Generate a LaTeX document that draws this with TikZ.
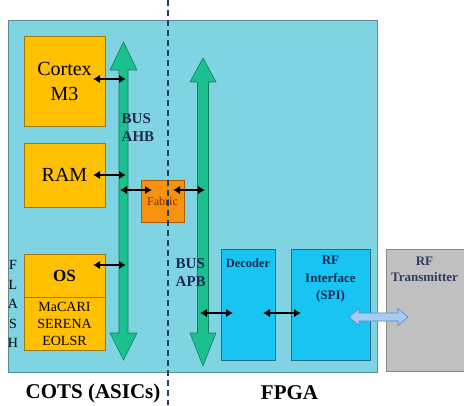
\documentclass[tikz,border=0pt]{standalone}
\usepackage{fontspec}
\setmainfont{Liberation Serif}
\usetikzlibrary{arrows.meta}
\definecolor{bgcyan}{HTML}{80D4E2}
\definecolor{bgedge}{HTML}{5A8C98}
\definecolor{yfill}{HTML}{FFC000}
\definecolor{yedge}{HTML}{9A7A10}
\definecolor{busfill}{HTML}{1CC08E}
\definecolor{busedge}{HTML}{0E8060}
\definecolor{fabfill}{HTML}{F7920E}
\definecolor{fabedge}{HTML}{A85E00}
\definecolor{fabtext}{HTML}{7A2A10}
\definecolor{bfill}{HTML}{18C4F2}
\definecolor{bedge}{HTML}{1E6E8C}
\definecolor{gfill}{HTML}{C0C0C0}
\definecolor{gedge}{HTML}{888888}
\definecolor{navy}{HTML}{1C2A52}
\definecolor{dashcol}{HTML}{1E3C6E}
\definecolor{lbfill}{HTML}{A6CCF4}
\definecolor{lbedge}{HTML}{5A88BE}
\begin{document}
\begin{tikzpicture}[x=1pt,y=-1pt,
  ybox/.style={draw=yedge, fill=yfill, line width=0.6pt, inner sep=0pt, align=center},
  bbox/.style={draw=bedge, fill=bfill, line width=0.6pt, inner sep=0pt},
  txt/.style={inner sep=0pt, align=center},
  bustxt/.style={inner sep=0pt, anchor=west, text=navy, font=\fontsize{15}{18}\selectfont\bfseries},
  blk/.style={{Latex[length=7pt,width=8.5pt]}-{Latex[length=7pt,width=8.5pt]}, line width=1.3pt, black},
  busarrow/.style={fill=busfill, draw=busedge, line width=0.6pt}
]
\clip (0,0) rectangle (464,405);
\fill[white] (0,0) rectangle (464,405);
% main area
\node[draw=bgedge, fill=bgcyan, line width=0.6pt, minimum width=369pt, minimum height=352pt, inner sep=0pt] (main) at (192.5,196) {};
% left boxes
\node[ybox, minimum width=81pt, minimum height=90pt, font=\fontsize{20}{25}\selectfont] (cortex) at (64.5,81) {Cortex\\M3};
\node[ybox, minimum width=81pt, minimum height=64pt, font=\fontsize{20}{24}\selectfont] (ram) at (64.5,175) {RAM};
\node[ybox, minimum width=81pt, minimum height=43pt, font=\fontsize{17}{20}\selectfont\bfseries] (os) at (64.5,275.5) {OS};
\node[ybox, minimum width=81pt, minimum height=53pt, font=\fontsize{14}{17}\selectfont] (macari) at (64.5,323.5) {MaCARI\\SERENA\\EOLSR};
\node[txt, font=\fontsize{14}{19.5}\selectfont] (flash) at (13,304) {F\\L\\A\\S\\H};
% buses
\path[busarrow] (123.5,42) -- (137,70) -- (128,70) -- (128,333) -- (137,333) -- (123.5,360)
  -- (110,333) -- (119,333) -- (119,70) -- (110,70) -- cycle;
\path[busarrow] (203,58) -- (216,82) -- (208.5,82) -- (208.5,333) -- (216,333) -- (203,366)
  -- (190,333) -- (197.5,333) -- (197.5,82) -- (190,82) -- cycle;
\coordinate (ahb1) at (126,79);
\coordinate (ahb2) at (126,175);
\coordinate (ahb3) at (120,190);
\coordinate (ahb4) at (126,265);
\coordinate (apb1) at (205,190);
\coordinate (apb2) at (200,313);
\node[bustxt] (bus1) at (121.5,119) {BUS};
\node[bustxt] (ahb) at (121.5,137) {AHB};
\node[bustxt] (bus2) at (175.5,264) {BUS};
\node[bustxt] (apb) at (175.5,282) {APB};
% fabric
\node[draw=fabedge, fill=fabfill, line width=0.6pt, minimum width=43pt, minimum height=42pt, inner sep=0pt, text=fabtext, font=\fontsize{12}{14}\selectfont] (fabric) at (162.5,201) {Fabric};
% FPGA blocks
\node[bbox, minimum width=54pt, minimum height=111pt] (dec) at (248,304.5) {};
\node[txt, text=navy, font=\fontsize{12.5}{15}\selectfont\bfseries] (dect) at (248,263) {Decoder};
\node[bbox, minimum width=79pt, minimum height=111pt] (rfi) at (330.5,304.5) {};
\node[txt, text=navy, font=\fontsize{13}{17.5}\selectfont\bfseries] (rfit) at (330.5,279.5) {RF\\Interface\\(SPI)};
\node[draw=gedge, fill=gfill, line width=0.6pt, minimum width=90pt, minimum height=122pt, inner sep=0pt] (rft) at (431,310) {};
\node[txt, text=navy!80!gray, font=\fontsize{13}{15.5}\selectfont\bfseries] (rftt) at (424.5,269.5) {RF\\Transmitter};
% black connectors
\coordinate (c1) at (93,79);
\coordinate (r1) at (93,175);
\coordinate (o1) at (93,265);
\coordinate (f1) at (152,190);
\coordinate (f2) at (173,190);
\coordinate (d1) at (233,313);
\coordinate (d2) at (263,313);
\coordinate (i1) at (301,313);
\draw[blk] (c1) -- (ahb1);
\draw[blk] (r1) -- (ahb2);
\draw[blk] (o1) -- (ahb4);
\draw[blk] (ahb3) -- (f1);
\draw[blk] (f2) -- (apb1);
\draw[blk] (apb2) -- (d1);
\draw[blk] (d2) -- (i1);
% light blue double arrow
\coordinate (la) at (349,317);
\coordinate (lb) at (408,317);
\path[fill=lbfill, draw=lbedge, line width=0.6pt] (la) -- ++(10,-8.5) -- ++(0,4.5) -- ++(39,0) -- ++(0,-4.5)
  -- (lb) -- ++(-10,8.5) -- ++(0,-4.5) -- ++(-39,0) -- ++(0,4.5) -- cycle;
% dashed divider
\coordinate (dtop) at (168,0);
\coordinate (dbot) at (168,405);
\draw[dashcol, line width=1.4pt, dash pattern=on 6pt off 4pt] (dtop) -- (dbot);
% bottom labels
\node[txt, font=\fontsize{21}{24}\selectfont\bfseries] (cots) at (93,393) {COTS (ASICs)};
\node[txt, font=\fontsize{21}{24}\selectfont\bfseries] (fpga) at (289.5,393) {FPGA};
\end{tikzpicture}
\end{document}
